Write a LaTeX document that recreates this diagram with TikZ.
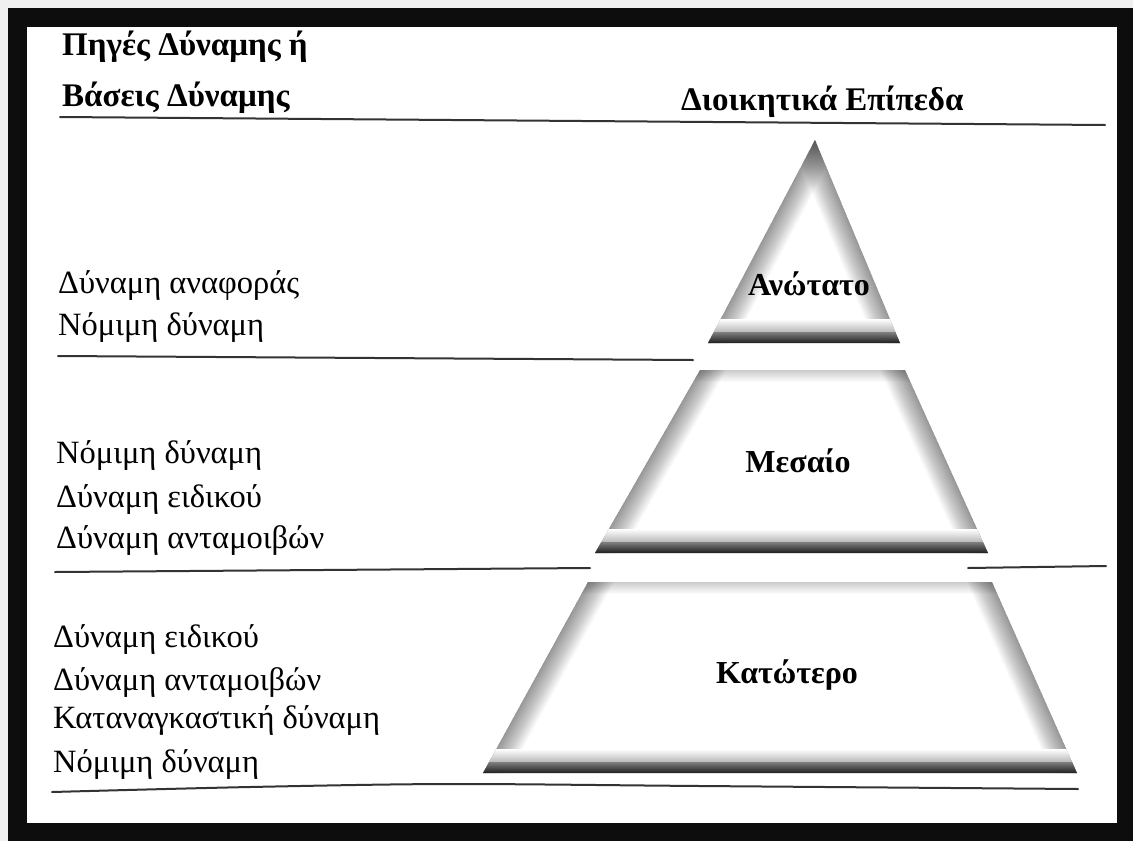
\documentclass[tikz,border=0pt]{standalone}
\usepackage{fontspec}
\setmainfont{Liberation Serif}
\begin{document}
\begin{tikzpicture}[x=1pt,y=-1pt,
  lbl/.style={anchor=base west, inner sep=0pt, font=\fontsize{32.5}{38}\selectfont},
  head/.style={anchor=base west, inner sep=0pt, font=\bfseries\fontsize{33}{38}\selectfont},
  tierlabel/.style={anchor=base, inner sep=0pt, font=\bfseries\fontsize{32}{36}\selectfont},
  rule/.style={line width=2pt, black!80, line cap=round},
  glow/.style={line width=#1, black, opacity=0.02, shorten <=-30pt, shorten >=-30pt}]
\useasboundingbox (0,0) rectangle (1133,841);

% frame
\fill[black!6] (0,0) rectangle (1133,841);
\fill[black!95] (8,8) rectangle (1133,841);
\fill[white] (27,27) rectangle (1117,823);

% soft inner edge along one side of a tier
\newcommand\sideglow[2]{%
  \foreach \w in {2,4,...,46} {\draw[glow=\w pt] #1 -- #2;}}
% bottom bands of a tier: x range, y of base
\newcommand\baseband[3]{%
  \shade[top color=white, bottom color=black!28] (#1,#3-24) rectangle (#2,#3-11);
  \shade[top color=black!50, bottom color=black!88] (#1,#3-11) rectangle (#2,#3);}
% faint band along the top edge of a trapezoid
\newcommand\topband[3]{%
  \shade[top color=black!20, bottom color=white] (#1,#3) rectangle (#2,#3+12);}

% corner points of the three tiers
\coordinate (tA)  at (815,140);
\coordinate (tBL) at (708,343);
\coordinate (tBR) at (900,343);
\coordinate (mTL) at (700,370);
\coordinate (mTR) at (905,370);
\coordinate (mBL) at (595,553);
\coordinate (mBR) at (988,553);
\coordinate (bTL) at (588,582);
\coordinate (bTR) at (992,582);
\coordinate (bBL) at (483,773);
\coordinate (bBR) at (1077,773);

% top tier
\begin{scope}
  \clip (tA) -- (tBL) -- (tBR) -- cycle;
  \fill[white] (tA) -- (tBL) -- (tBR) -- cycle;
  \sideglow{(tA)}{(tBL)}
  \sideglow{(tA)}{(tBR)}
  \baseband{690}{920}{343}
\end{scope}

% middle tier
\begin{scope}
  \clip (mTL) -- (mTR) -- (mBR) -- (mBL) -- cycle;
  \fill[white] (mTL) -- (mTR) -- (mBR) -- (mBL) -- cycle;
  \topband{690}{915}{370}
  \sideglow{(mTL)}{(mBL)}
  \sideglow{(mTR)}{(mBR)}
  \baseband{585}{1000}{553}
\end{scope}

% bottom tier
\begin{scope}
  \clip (bTL) -- (bTR) -- (bBR) -- (bBL) -- cycle;
  \fill[white] (bTL) -- (bTR) -- (bBR) -- (bBL) -- cycle;
  \topband{580}{1000}{582}
  \sideglow{(bTL)}{(bBL)}
  \sideglow{(bTR)}{(bBR)}
  \baseband{470}{1090}{773}
\end{scope}

% tier names
\node[tierlabel] (top) at (809,295) {Ανώτατο};
\node[tierlabel] (mid) at (798,472) {Μεσαίο};
\node[tierlabel] (low) at (787,683) {Κατώτερο};

% headings
\node[head] (h1) at (62,55)  {Πηγές Δύναμης ή};
\node[head] (h2) at (62,106) {Βάσεις Δύναμης};
\node[head] (h3) at (681,110) {Διοικητικά Επίπεδα};

% sources of power per level
\node[lbl] (a1) at (58,293) {Δύναμη αναφοράς};
\node[lbl] (a2) at (58,335) {Νόμιμη δύναμη};
\node[lbl] (b1) at (56,463) {Νόμιμη δύναμη};
\node[lbl] (b2) at (56,507) {Δύναμη ειδικού};
\node[lbl] (b3) at (56,548) {Δύναμη ανταμοιβών};
\node[lbl] (c1) at (53,647) {Δύναμη ειδικού};
\node[lbl] (c2) at (53,690) {Δύναμη ανταμοιβών};
\node[lbl] (c3) at (53,728) {Καταναγκαστική δύναμη};
\node[lbl] (c4) at (53,772) {Νόμιμη δύναμη};

% rules
\draw[rule] (60,117) -- (1105,125);
\draw[rule] (58,356) -- (693,360);
\draw[rule] (55,572) -- (590,568);
\draw[rule] (968,568) -- (1106,566);
\draw[rule] plot[smooth] coordinates {(52,792) (250,787) (450,784) (700,786) (1078,789)};
\end{tikzpicture}
\end{document}
